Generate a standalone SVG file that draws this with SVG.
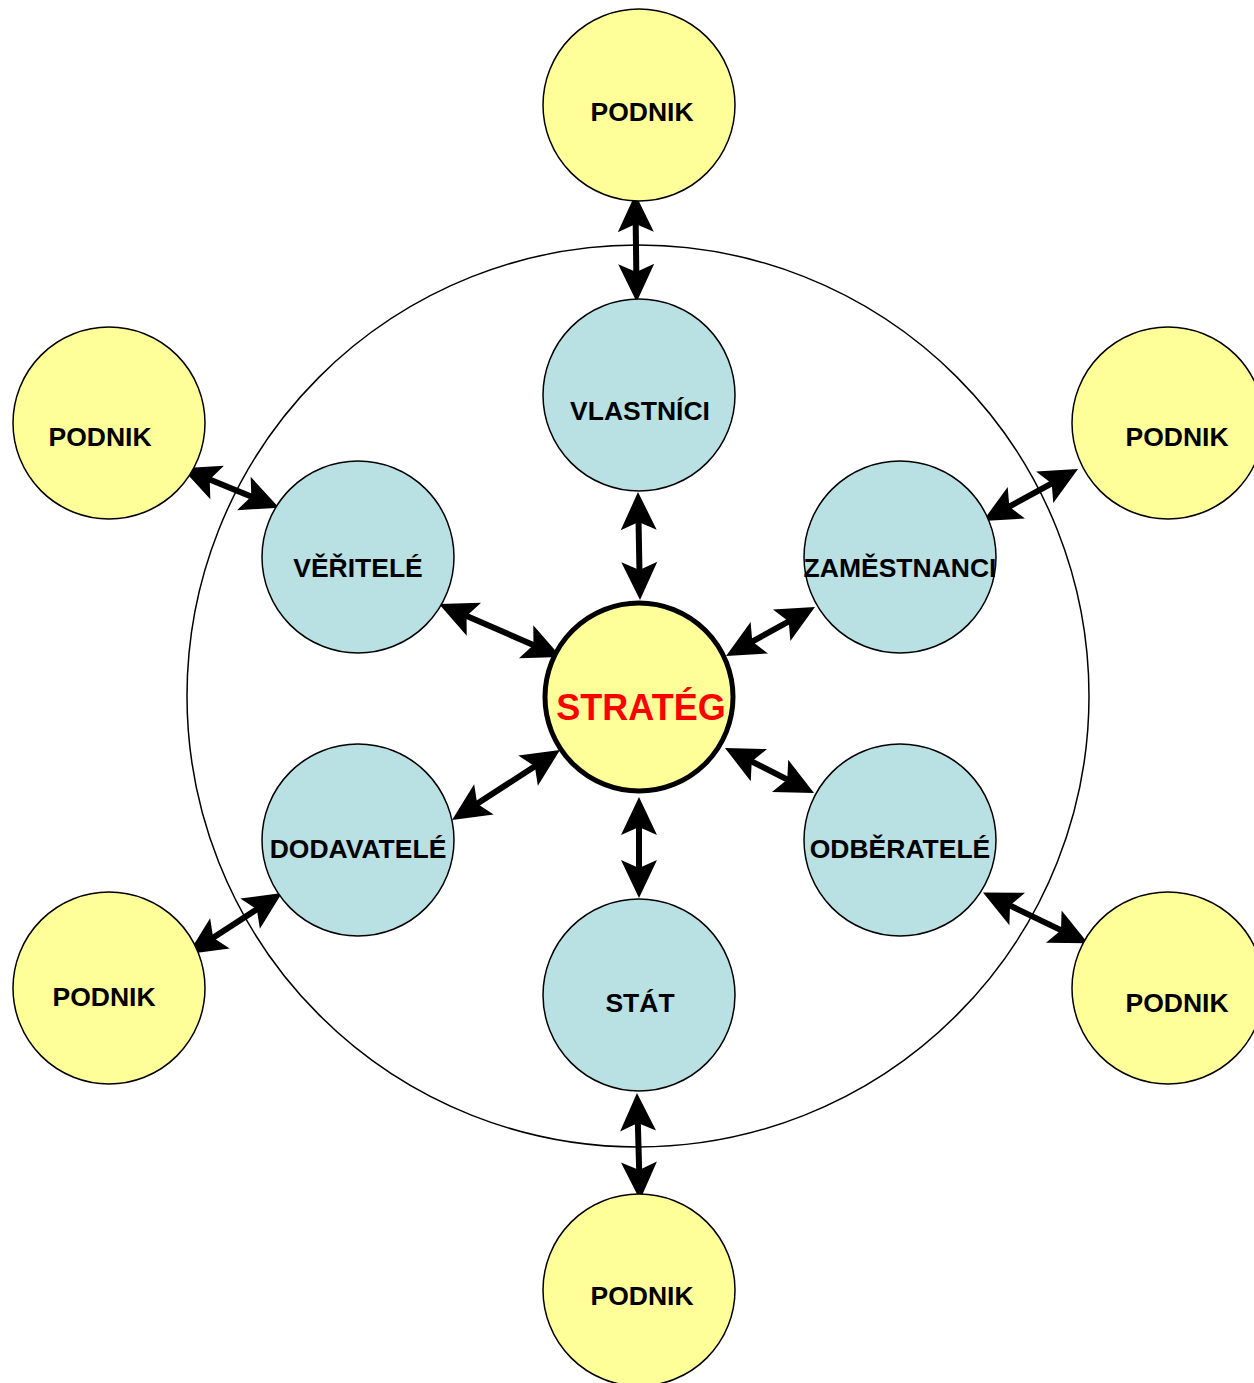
<svg xmlns="http://www.w3.org/2000/svg" width="1254" height="1383" viewBox="0 0 1254 1383">
  <style>
    .outer { fill: #FFFF99; stroke: #000; stroke-width: 1.5; }
    .inner { fill: #B9E0E3; stroke: #000; stroke-width: 1.5; }
    .core { fill: #FFFF99; stroke: #000; stroke-width: 5; }
    .ring { fill: none; stroke: #000; stroke-width: 1.5; }
    .lbl { font-family: "Liberation Sans", Arial, sans-serif; font-weight: bold; font-size: 26.5px; fill: #000; text-anchor: middle; }
    .main { font-family: "Liberation Sans", Arial, sans-serif; font-weight: bold; font-size: 36px; fill: #FF0000; text-anchor: middle; }
    .link { stroke: #000; stroke-width: 6; fill: none; marker-start: url(#head); marker-end: url(#head); }
  </style>
  <defs>
    <!-- arrowhead: line end sits at origin, tip reaches 22px further -->
    <marker id="head" markerUnits="userSpaceOnUse" viewBox="-20 -20 45 40" markerWidth="45" markerHeight="40" refX="0" refY="0" orient="auto-start-reverse">
      <path d="M22,0 L-16,-18 L-8,0 L-16,18 Z" fill="#000"/>
    </marker>
  </defs>

  <rect width="1254" height="1383" fill="#fff"/>

  <circle class="ring" cx="638" cy="696" r="451"/>

  <g id="connectors">
    <line class="link" x1="635.6" y1="216" x2="636.4" y2="280"/>
    <line class="link" x1="638.4" y1="514" x2="639.6" y2="578"/>
    <line class="link" x1="202.3" y1="476.5" x2="258.7" y2="499.5"/>
    <line class="link" x1="459.2" y1="612.8" x2="540.8" y2="648.2"/>
    <line class="link" x1="1002.3" y1="510.4" x2="1058.7" y2="479.6"/>
    <line class="link" x1="745.3" y1="645.4" x2="795.7" y2="617.6"/>
    <line class="link" x1="541.5" y1="762" x2="470.5" y2="808"/>
    <line class="link" x1="263.5" y1="905" x2="206.5" y2="942"/>
    <line class="link" x1="744.6" y1="757.9" x2="794.4" y2="783.1"/>
    <line class="link" x1="1002.8" y1="902.1" x2="1068.2" y2="933.6"/>
    <line class="link" x1="639" y1="819" x2="639" y2="876"/>
    <line class="link" x1="637.6" y1="1115" x2="639.4" y2="1178"/>
  </g>

  <g id="strateg">
    <circle class="core" cx="639" cy="697" r="94"/>
    <text class="main" x="641" y="720">STRATÉG</text>
  </g>

  <g id="vlastnici">
    <circle class="inner" cx="639" cy="395" r="96"/>
    <text class="lbl" x="640" y="420">VLASTNÍCI</text>
  </g>
  <g id="veritele">
    <circle class="inner" cx="358" cy="557" r="96"/>
    <text class="lbl" x="358" y="577">VĚŘITELÉ</text>
  </g>
  <g id="zamestnanci">
    <circle class="inner" cx="900" cy="557" r="96"/>
    <text class="lbl" x="900" y="577">ZAMĚSTNANCI</text>
  </g>
  <g id="dodavatele">
    <circle class="inner" cx="358" cy="840" r="96"/>
    <text class="lbl" x="358" y="858">DODAVATELÉ</text>
  </g>
  <g id="odberatele">
    <circle class="inner" cx="900" cy="840" r="96"/>
    <text class="lbl" x="900" y="858">ODBĚRATELÉ</text>
  </g>
  <g id="stat">
    <circle class="inner" cx="639" cy="995" r="96"/>
    <text class="lbl" x="640" y="1012">STÁT</text>
  </g>

  <g id="podnik-top">
    <circle class="outer" cx="639" cy="105" r="96"/>
    <text class="lbl" x="642" y="121">PODNIK</text>
  </g>
  <g id="podnik-left-top">
    <circle class="outer" cx="109" cy="423" r="96"/>
    <text class="lbl" x="100" y="446">PODNIK</text>
  </g>
  <g id="podnik-right-top">
    <circle class="outer" cx="1168" cy="423" r="96"/>
    <text class="lbl" x="1177" y="446">PODNIK</text>
  </g>
  <g id="podnik-left-bottom">
    <circle class="outer" cx="109" cy="988" r="96"/>
    <text class="lbl" x="104" y="1006">PODNIK</text>
  </g>
  <g id="podnik-right-bottom">
    <circle class="outer" cx="1168" cy="988" r="96"/>
    <text class="lbl" x="1177" y="1012">PODNIK</text>
  </g>
  <g id="podnik-bottom">
    <circle class="outer" cx="639" cy="1290" r="96"/>
    <text class="lbl" x="642" y="1305">PODNIK</text>
  </g>
</svg>
